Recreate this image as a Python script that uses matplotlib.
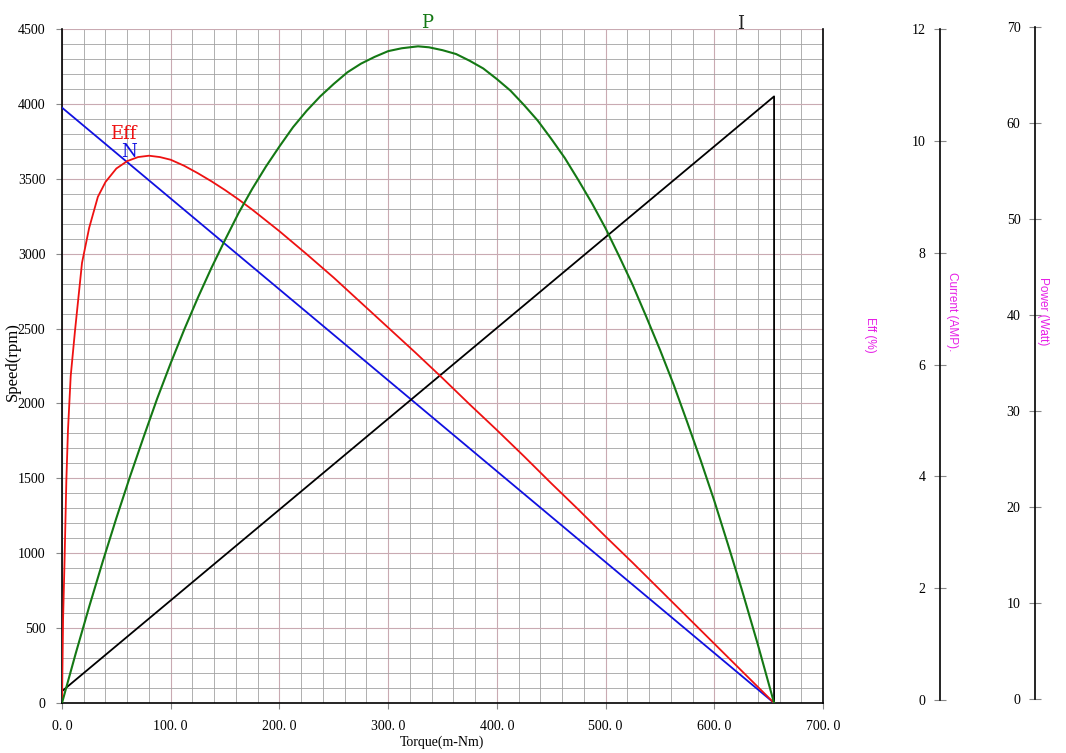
import matplotlib
matplotlib.use('Agg')
import matplotlib.pyplot as plt
from matplotlib.ticker import MultipleLocator

# speed line (N)
n_torque = [0, 655]
n_speed = [3975, 0]

# current line (I), drops to zero at stall
i_torque = [0, 655, 655]
i_current = [0.21, 10.8, 0]

# efficiency curve (%)
eff_torque = [0, 1, 2.3, 4, 5.5, 8, 12, 18.4, 25, 33, 40, 50, 60, 70, 80,
              90, 100, 112.5, 125, 137.5, 150, 162.5, 175, 187.5, 200, 225,
              250, 275, 300, 325, 350, 375, 400, 425, 450, 475, 500, 525,
              550, 575, 600, 630, 655]
eff_pct = [0, 12.5, 20.8, 33.0, 40.5, 48.5, 55.3, 65.3, 70.5, 75.1, 77.3,
           79.3, 80.4, 81.0, 81.2, 81.0, 80.6, 79.7, 78.6, 77.4, 76.1, 74.7,
           73.2, 71.6, 70.0, 66.6, 63.1, 59.4, 55.7, 52.0, 48.2, 44.3, 40.5,
           36.6, 32.6, 28.7, 24.7, 20.8, 16.8, 12.8, 8.8, 4.0, 0]

# output power curve (W)
p_torque = [0, 12.5, 25, 37.5, 50, 62.5, 75, 87.5, 100, 112.5, 125, 137.5,
            150, 162.5, 175, 187.5, 200, 212.5, 225, 237.5, 250, 262.5, 275,
            287.5, 300, 312.5, 327.5, 337.5, 350, 362.5, 375, 387.5, 400,
            412.5, 425, 437.5, 450, 462.5, 475, 487.5, 500, 512.5, 525,
            537.5, 550, 562.5, 575, 587.5, 600, 612.5, 625, 640, 655]
p_watt = [0, 5.1, 10.0, 14.7, 19.2, 23.5, 27.6, 31.6, 35.3, 38.8, 42.1,
          45.2, 48.1, 50.9, 53.4, 55.7, 57.8, 59.8, 61.5, 63.0, 64.3, 65.5,
          66.4, 67.1, 67.7, 68.0, 68.2, 68.1, 67.8, 67.4, 66.7, 65.9, 64.8,
          63.6, 62.1, 60.5, 58.6, 56.6, 54.3, 51.9, 49.3, 46.4, 43.4, 40.1,
          36.7, 33.1, 29.2, 25.2, 21.0, 16.5, 11.9, 6.1, 0]

x_ticks = [0, 100, 200, 300, 400, 500, 600, 700]
x_labels = ['0. 0', '100. 0', '200. 0', '300. 0', '400. 0', '500. 0',
            '600. 0', '700. 0']

W, H = 1066, 753
fig = plt.figure(figsize=(W / 100, H / 100), dpi=100)
fig.patch.set_facecolor('white')

serif = 'Liberation Serif'
sans = 'Liberation Sans'
magenta = '#e61ee6'

ax = fig.add_axes([62 / W, 50 / H, 761 / W, 674 / H])
ax.set_xlim(0, 700)
ax.set_ylim(0, 4500)
ax.xaxis.set_major_locator(MultipleLocator(100))
ax.xaxis.set_minor_locator(MultipleLocator(20))
ax.yaxis.set_major_locator(MultipleLocator(500))
ax.yaxis.set_minor_locator(MultipleLocator(100))
ax.grid(which='minor', color='#a2a2a2', lw=0.6)
ax.grid(which='major', color='#c9aab2', lw=0.8)
ax.set_axisbelow(True)
ax.tick_params(which='minor', length=0)
ax.tick_params(which='major', length=4, color='#888888', direction='out',
               labelsize=10, pad=8)
ax.set_xticks(x_ticks)
ax.set_xticklabels(x_labels, fontfamily=serif)
for lab in ax.get_yticklabels():
    lab.set_fontfamily(serif)
ax.spines['top'].set_visible(False)
for s in ('left', 'bottom', 'right'):
    ax.spines[s].set_color('black')
    ax.spines[s].set_linewidth(1.2)

fig.text(13 / W, 1 - 362 / H, 'Speed(rpm)', rotation=90, fontfamily=serif,
         fontsize=12, ha='center', va='center')
ax.set_xlabel('Torque(m-Nm)', fontfamily=serif, fontsize=10, labelpad=2)

# curves
ax.plot(n_torque, n_speed, color='#1010e0', lw=1.3, zorder=5)

ax_i = ax.twinx()
ax_i.set_ylim(0, 12)
ax_i.set_xlim(0, 700)
ax_i.axis('off')
ax_i.plot(i_torque, i_current, color='black', lw=1.3)

ax_e = ax.twinx()
ax_e.set_ylim(0, 100)
ax_e.set_xlim(0, 700)
ax_e.axis('off')
ax_e.plot(eff_torque, eff_pct, color='#ee1111', lw=1.3)

ax_p = ax.twinx()
ax_p.set_ylim(0, 70)
ax_p.set_xlim(0, 700)
ax_p.axis('off')
ax_p.plot(p_torque, p_watt, color='#147814', lw=1.5)

# curve labels
fig.text(123 / W, 1 - 134 / H, 'Eff', color='#ee1111', fontsize=13,
         fontfamily='DejaVu Serif', ha='center', va='center')
fig.text(129 / W, 1 - 152 / H, 'N', color='#1010e0', fontsize=13,
         fontfamily='DejaVu Serif', ha='center', va='center')
fig.text(427 / W, 1 - 23 / H, 'P', color='#147814', fontsize=13,
         fontfamily='DejaVu Serif', ha='center', va='center')
fig.text(741 / W, 1 - 24 / H, 'I', color='#222222', fontsize=13,
         fontfamily='DejaVu Serif', ha='center', va='center')


def side_scale(x_px, y_top, y_bot, top, step):
    a = fig.add_axes([x_px / W, (H - y_bot) / H, 0.0001, (y_bot - y_top) / H])
    a.set_ylim(0, top)
    a.yaxis.set_major_locator(MultipleLocator(step))
    a.set_xticks([])
    a.patch.set_visible(False)
    for s in ('top', 'right', 'bottom'):
        a.spines[s].set_visible(False)
    a.spines['left'].set_linewidth(1.2)
    a.tick_params(axis='y', direction='inout', length=9, color='#888888',
                  labelsize=10, pad=6)
    for lab in a.get_yticklabels():
        lab.set_fontfamily(serif)
    return a


side_scale(940, 29, 700, 12, 2)
side_scale(1035, 27, 699, 70, 10)

fig.text(870 / W, 1 - 335 / H, 'Eff (%)', rotation=-90, color=magenta,
         fontsize=8.5, fontfamily=sans, ha='center', va='center')
fig.text(952 / W, 1 - 312 / H, 'Current (AMP).', rotation=-90, color=magenta,
         fontsize=8.5, fontfamily=sans, ha='center', va='center')
fig.text(1043 / W, 1 - 311 / H, 'Power (Watt)', rotation=-90, color=magenta,
         fontsize=8.5, fontfamily=sans, ha='center', va='center')

plt.savefig('out.png', dpi=100, facecolor='white')
plt.close(fig)
